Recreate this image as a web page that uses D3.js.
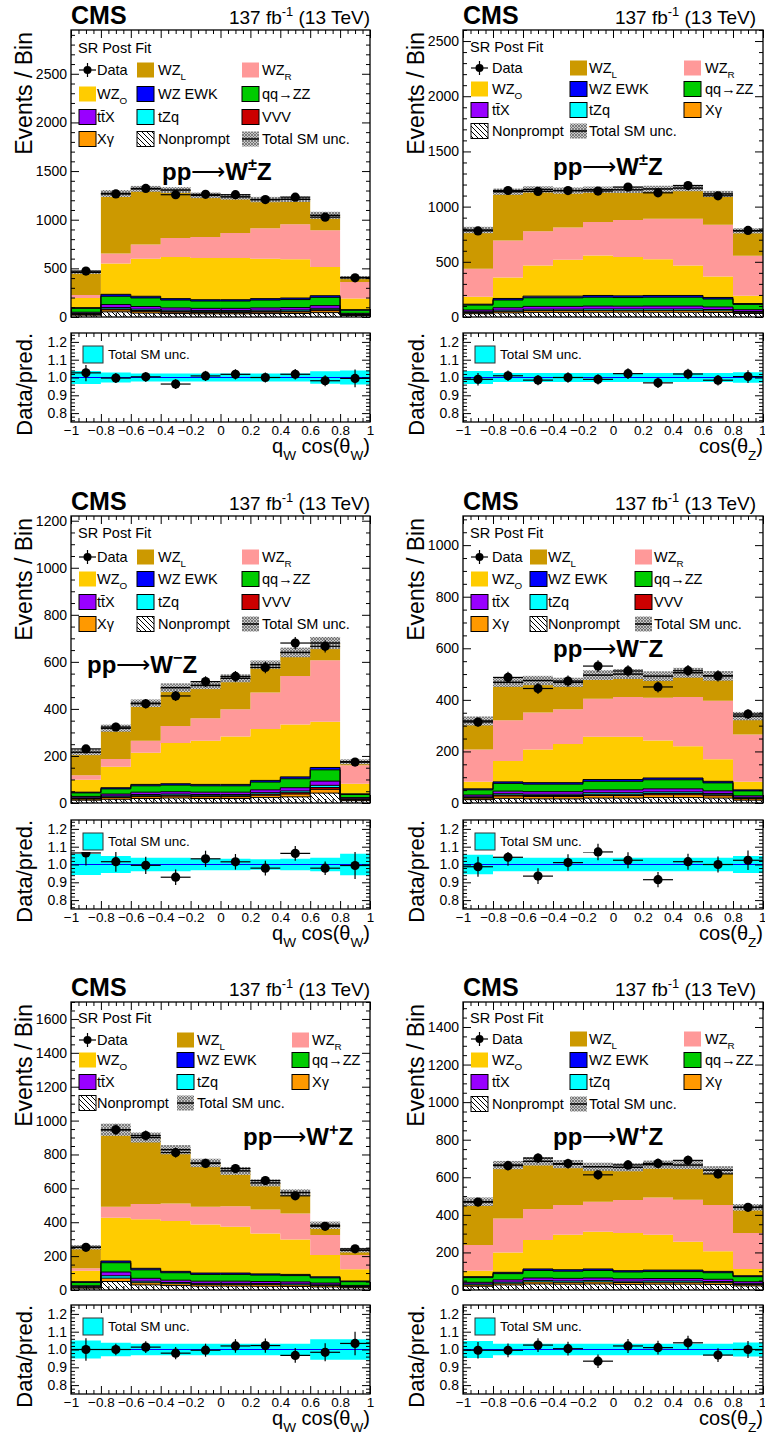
<!DOCTYPE html>
<html><head><meta charset="utf-8">
<script src="https://cdn.jsdelivr.net/npm/d3@7/dist/d3.min.js"></script>
<style>
body{margin:0;background:#fff}
text{font-family:"Liberation Sans",Arial,Helvetica,sans-serif;fill:#000}
</style>
</head><body>
<svg id="c" width="765" height="1438" xmlns="http://www.w3.org/2000/svg"></svg>
<script>
// ---------- shared axis definitions ----------
const binEdges = [-1, -0.8, -0.6, -0.4, -0.2, 0, 0.2, 0.4, 0.6, 0.8, 1];
const xTickVals = [-1, -0.8, -0.6, -0.4, -0.2, 0, 0.2, 0.4, 0.6, 0.8, 1];
const xTickText = ["\u22121", "\u22120.8", "\u22120.6", "\u22120.4", "\u22120.2", "0", "0.2", "0.4", "0.6", "0.8", "1"];
const ratioTickVals = [0.8, 0.9, 1.0, 1.1, 1.2];

// ---------- Panel 1: pp->W±Z, q_W cos(theta_W) ----------
const p1_data = [472, 1265, 1322, 1257, 1261, 1257, 1207, 1232, 1026, 403];
const p1_wzL = [234, 617, 573, 492, 427, 371, 295, 257, 153, 45];
const p1_wzR = [31, 103, 144, 196, 216, 257, 312, 360, 378, 171];
const p1_wzO = [99, 316, 387, 428, 429, 429, 411, 398, 295, 114];
const p1_ewk = [7, 20, 17, 15, 14, 14, 15, 16, 17, 5];
const p1_zz = [40, 85, 88, 80, 75, 75, 80, 82, 85, 32];
const p1_ttx = [12, 30, 27, 24, 23, 23, 24, 25, 28, 9];
const p1_tzq = [6, 15, 14, 12, 11, 11, 12, 12, 14, 4];
const p1_vvv = [4, 10, 9, 8, 8, 8, 8, 8, 10, 3];
const p1_xg = [8, 20, 18, 15, 14, 14, 15, 16, 20, 6];
const p1_np = [19, 53, 40, 35, 33, 33, 35, 36, 45, 16];
const p1_unc = [0.037, 0.028, 0.023, 0.023, 0.023, 0.023, 0.023, 0.023, 0.035, 0.04];

// ---------- Panel 2: pp->W±Z, cos(theta_Z) ----------
const p2_data = [780, 1146, 1138, 1145, 1141, 1177, 1125, 1191, 1098, 784];
const p2_wzL = [352, 443, 378, 334, 293, 274, 270, 278, 280, 225];
const p2_wzR = [253, 335, 311, 293, 302, 335, 366, 424, 469, 363];
const p2_wzO = [67, 189, 277, 329, 363, 351, 329, 271, 189, 70];
const p2_ewk = [8, 14, 15, 15, 16, 16, 16, 16, 14, 8];
const p2_zz = [45, 70, 78, 78, 80, 78, 80, 80, 72, 48];
const p2_ttx = [15, 22, 25, 25, 26, 25, 26, 26, 23, 16];
const p2_tzq = [8, 11, 13, 13, 13, 13, 13, 13, 12, 8];
const p2_xg = [10, 14, 16, 16, 17, 16, 17, 17, 15, 10];
const p2_np = [30, 37, 42, 42, 43, 44, 43, 43, 41, 32];
const p2_unc = [0.037, 0.025, 0.025, 0.025, 0.025, 0.025, 0.025, 0.025, 0.025, 0.03];

// ---------- Panel 3: pp->W-Z, q_W cos(theta_W) ----------
const p3_data = [230, 323, 422, 455, 516, 538, 576, 680, 666, 174];
const p3_wzL = [98, 131, 159, 163, 140, 131, 118, 100, 73, 14];
const p3_wzR = [19, 33, 51, 72, 95, 116, 155, 206, 262, 79];
const p3_wzO = [53, 89, 135, 173, 186, 204, 219, 223, 194, 43];
const p3_ewk = [3, 5, 6, 6, 6, 6, 7, 8, 10, 3];
const p3_zz = [15, 22, 27, 28, 27, 27, 33, 38, 48, 13];
const p3_ttx = [6, 8, 10, 10, 10, 10, 12, 14, 18, 5];
const p3_tzq = [3, 4, 5, 5, 5, 5, 6, 7, 9, 2];
const p3_vvv = [2, 3, 4, 4, 4, 4, 5, 6, 8, 2];
const p3_xg = [5, 7, 8, 8, 8, 8, 10, 12, 16, 4];
const p3_np = [12, 16, 19, 21, 19, 19, 23, 26, 42, 10];
const p3_unc = [0.059, 0.048, 0.038, 0.038, 0.032, 0.032, 0.03, 0.032, 0.038, 0.06];

// ---------- Panel 4: pp->W-Z, cos(theta_Z) ----------
const p4_data = [314, 487, 444, 473, 531, 512, 450, 513, 493, 345];
const p4_wzL = [111, 147, 124, 104, 92, 89, 84, 94, 96, 71];
const p4_wzR = [125, 158, 144, 135, 147, 154, 166, 191, 227, 184];
const p4_wzO = [27, 81, 128, 150, 166, 166, 145, 123, 86, 31];
const p4_ewk = [4, 6, 6, 6, 7, 7, 7, 7, 6, 4];
const p4_zz = [20, 30, 29, 29, 33, 33, 35, 35, 31, 19];
const p4_ttx = [7, 10, 10, 10, 11, 11, 12, 12, 10, 6];
const p4_tzq = [3, 5, 5, 5, 6, 6, 6, 6, 5, 3];
const p4_vvv = [2, 4, 4, 4, 5, 5, 5, 5, 4, 2];
const p4_xg = [6, 9, 9, 9, 10, 10, 11, 11, 9, 6];
const p4_np = [13, 18, 16, 16, 19, 19, 21, 21, 19, 11];
const p4_unc = [0.055, 0.038, 0.038, 0.038, 0.038, 0.038, 0.038, 0.038, 0.038, 0.048];

// ---------- Panel 5: pp->W+Z, q_W cos(theta_W) ----------
const p5_data = [252, 946, 912, 811, 747, 717, 646, 556, 376, 243];
const p5_wzL = [124, 455, 393, 317, 259, 208, 157, 123, 58, 29];
const p5_wzR = [14, 65, 89, 103, 104, 122, 141, 154, 118, 84];
const p5_wzO = [65, 255, 290, 298, 287, 273, 239, 206, 128, 69];
const p5_ewk = [4, 10, 9, 8, 8, 8, 7, 7, 6, 4];
const p5_zz = [20, 55, 50, 44, 40, 40, 38, 37, 31, 22];
const p5_ttx = [6, 22, 17, 14, 13, 13, 12, 12, 10, 6];
const p5_tzq = [3, 14, 9, 7, 6, 6, 6, 6, 5, 3];
const p5_xg = [5, 20, 13, 11, 10, 10, 10, 9, 8, 5];
const p5_np = [11, 50, 30, 26, 23, 23, 22, 21, 18, 13];
const p5_unc = [0.05, 0.038, 0.033, 0.033, 0.033, 0.033, 0.033, 0.033, 0.057, 0.058];

// ---------- Panel 6: pp->W+Z, cos(theta_Z) ----------
const p6_data = [468, 662, 702, 673, 613, 666, 674, 690, 618, 440];
const p6_wzL = [231, 284, 254, 218, 186, 174, 174, 185, 186, 137];
const p6_wzR = [136, 181, 165, 158, 160, 176, 199, 223, 246, 191];
const p6_wzO = [32, 106, 154, 186, 198, 200, 188, 151, 107, 36];
const p6_ewk = [5, 7, 8, 8, 8, 7, 8, 8, 7, 5];
const p6_zz = [25, 33, 40, 38, 40, 36, 37, 37, 35, 27];
const p6_ttx = [9, 12, 14, 14, 14, 13, 13, 13, 12, 10];
const p6_tzq = [5, 6, 7, 7, 7, 7, 7, 7, 6, 5];
const p6_xg = [7, 9, 11, 10, 11, 10, 10, 10, 10, 7];
const p6_np = [20, 27, 32, 31, 32, 30, 31, 31, 29, 22];
const p6_unc = [0.048, 0.033, 0.033, 0.033, 0.033, 0.033, 0.033, 0.033, 0.033, 0.04];

// ---------- styles ----------
const stackOrder = ["np", "xg", "vvv", "tzq", "ttx", "zz", "ewk", "wzO", "wzR", "wzL"];
const compColor = {wzL:"#cc9900", wzR:"#ff9999", wzO:"#ffcc00", ewk:"#0000ff", zz:"#00cc00",
  ttx:"#9900ff", tzq:"#00ffff", vvv:"#cc0000", xg:"#ff9900", np:"url(#npHatch)"};
const outlined = {ewk:1, zz:1, ttx:1, tzq:1, vvv:1, xg:1, np:1};
const compLabel = {data:["Data"], wzL:["WZ",{sub:"L"}], wzR:["WZ",{sub:"R"}], wzO:["WZ",{sub:"O"}],
  ewk:["WZ EWK"], zz:["qq\u2192ZZ"], ttx:["tt\u0304X"], tzq:["tZq"], vvv:["VVV"], xg:["X\u03b3"],
  np:["Nonprompt"], unc:["Total SM unc."]};

const entriesVVV = [[0,0,"data"],[0,1,"wzL"],[0,2,"wzR"],[1,0,"wzO"],[1,1,"ewk"],[1,2,"zz"],
  [2,0,"ttx"],[2,1,"tzq"],[2,2,"vvv"],[3,0,"xg"],[3,1,"np"],[3,2,"unc"]];
const entriesNoVVV = [[0,0,"data"],[0,1,"wzL"],[0,2,"wzR"],[1,0,"wzO"],[1,1,"ewk"],[1,2,"zz"],
  [2,0,"ttx"],[2,1,"tzq"],[2,2,"xg"],[3,0,"np"],[3,1,"unc"]];

const cols = [{fl:71, fr:370, lumiR:370}, {fl:463, fr:763, lumiR:756}];
const rowsG = [{mt:30, mb:317, rt:333}, {mt:516, mb:803, rt:820}, {mt:1002, mb:1290, rt:1305}];

const xTitleQ = ["q",{sub:"W"}," cos(\u03b8",{sub:"W"},")"];
const xTitleZ = ["cos(\u03b8",{sub:"Z"},")"];

const panels = [
  {id:1, col:0, row:0, ymax:2950, yMajor:500, yMinor:100, sup:"\u00b1", procX:162, procY:180, xTitle:xTitleQ,
   data:p1_data, unc:p1_unc, comp:{wzL:p1_wzL,wzR:p1_wzR,wzO:p1_wzO,ewk:p1_ewk,zz:p1_zz,ttx:p1_ttx,tzq:p1_tzq,vvv:p1_vvv,xg:p1_xg,np:p1_np},
   leg:{boxX:[8,66,171], textX:[26,87,191], sr:18, rows:[40,64,87,109], entries:entriesVVV}},
  {id:2, col:1, row:0, ymax:2600, yMajor:500, yMinor:100, sup:"\u00b1", procX:553, procY:175, xTitle:xTitleZ,
   data:p2_data, unc:p2_unc, comp:{wzL:p2_wzL,wzR:p2_wzR,wzO:p2_wzO,ewk:p2_ewk,zz:p2_zz,ttx:p2_ttx,tzq:p2_tzq,xg:p2_xg,np:p2_np},
   leg:{boxX:[8,107,221], textX:[29,126,242], sr:17, rows:[38,59,80,101], entries:entriesNoVVV}},
  {id:3, col:0, row:1, ymax:1220, yMajor:200, yMinor:50, sup:"\u2212", procX:87, procY:673, xTitle:xTitleQ,
   data:p3_data, unc:p3_unc, comp:{wzL:p3_wzL,wzR:p3_wzR,wzO:p3_wzO,ewk:p3_ewk,zz:p3_zz,ttx:p3_ttx,tzq:p3_tzq,vvv:p3_vvv,xg:p3_xg,np:p3_np},
   leg:{boxX:[8,66,171], textX:[26,87,191], sr:17, rows:[41,63,86,108], entries:entriesVVV}},
  {id:4, col:1, row:1, ymax:1113, yMajor:200, yMinor:50, sup:"\u2212", procX:553, procY:657, xTitle:xTitleZ,
   data:p4_data, unc:p4_unc, comp:{wzL:p4_wzL,wzR:p4_wzR,wzO:p4_wzO,ewk:p4_ewk,zz:p4_zz,ttx:p4_ttx,tzq:p4_tzq,vvv:p4_vvv,xg:p4_xg,np:p4_np},
   leg:{boxX:[8,67,172], textX:[29,85,191], sr:17, rows:[41,63,86,108], entries:entriesVVV}},
  {id:5, col:0, row:2, ymax:1700, yMajor:200, yMinor:50, sup:"+", procX:243, procY:1145, xTitle:xTitleQ,
   data:p5_data, unc:p5_unc, comp:{wzL:p5_wzL,wzR:p5_wzR,wzO:p5_wzO,ewk:p5_ewk,zz:p5_zz,ttx:p5_ttx,tzq:p5_tzq,xg:p5_xg,np:p5_np},
   leg:{boxX:[8,106,221], textX:[26,126,241], sr:16, rows:[38,58,80,101], entries:entriesNoVVV}},
  {id:6, col:1, row:2, ymax:1533, yMajor:200, yMinor:50, sup:"+", procX:553, procY:1145, xTitle:xTitleZ,
   data:p6_data, unc:p6_unc, comp:{wzL:p6_wzL,wzR:p6_wzR,wzO:p6_wzO,ewk:p6_ewk,zz:p6_zz,ttx:p6_ttx,tzq:p6_tzq,xg:p6_xg,np:p6_np},
   leg:{boxX:[8,107,221], textX:[29,126,242], sr:16, rows:[37,58,80,102], entries:entriesNoVVV}}
];

// ---------- drawing ----------
const svg = d3.select("#c");
const defs = svg.append("defs");
const npPat = defs.append("pattern").attr("id","npHatch").attr("patternUnits","userSpaceOnUse").attr("width",5).attr("height",5);
npPat.append("rect").attr("width",5).attr("height",5).attr("fill","#fff");
npPat.append("path").attr("d","M-1,-1L6,6M-1,4L1,6M4,-1L6,1").attr("stroke","#000").attr("stroke-width",1);
const unPat = defs.append("pattern").attr("id","uncHatch").attr("patternUnits","userSpaceOnUse").attr("width",3).attr("height",3);
unPat.append("rect").attr("width",3).attr("height",3).attr("fill","#c8c8c8");
unPat.append("path").attr("d","M0,0L3,3M3,0L0,3").attr("stroke","#5e5e5e").attr("stroke-width",0.7);

const FONT = '"Liberation Sans",Arial,Helvetica,sans-serif';

function rich(g, x, y, parts, size, anchor, weight) {
  const t = g.append("text").attr("x", x).attr("y", y).attr("font-size", size)
    .attr("text-anchor", anchor || "start").attr("font-weight", weight || "normal");
  let off = 0;
  parts.forEach(p => {
    let s, target, fs, w = null;
    if (typeof p === "string") { s = p; target = 0; fs = size; }
    else if (p.txt !== undefined) { s = p.txt; target = 0; fs = size; w = p.weight; }
    else if (p.sub !== undefined) { s = p.sub; target = size * 0.33; fs = size * 0.68; }
    else { s = p.sup; target = -size * 0.42; fs = size * 0.68; }
    const ts = t.append("tspan").attr("font-size", fs).text(s);
    if (w) ts.attr("font-weight", w);
    if (target !== off) { ts.attr("dy", target - off); off = target; }
  });
  return t;
}

function styleAxis(g, size) {
  g.attr("font-family", FONT).attr("font-size", size);
  g.select(".domain").remove();
  g.selectAll(".tick line").attr("stroke", "#000").attr("stroke-width", 1);
  g.selectAll(".tick text").attr("fill", "#000");
}

function stepPoints(vals) {
  return binEdges.map((e, i) => ({x: e, v: vals[Math.min(i, vals.length - 1)]}));
}

function drawPanel(P) {
  const C = cols[P.col], R = rowsG[P.row];
  const fl = C.fl, fr = C.fr, mt = R.mt, mb = R.mb, rt = R.rt, rb = R.rt + 89;
  const x = d3.scaleLinear().domain([-1, 1]).range([fl, fr]);
  const y = d3.scaleLinear().domain([0, P.ymax]).range([mb, mt]);
  const yr = d3.scaleLinear().domain([0.75, 1.25]).range([rb, rt]);
  const g = svg.append("g");

  defs.append("clipPath").attr("id", "cm" + P.id).append("rect")
    .attr("x", fl).attr("y", mt).attr("width", fr - fl).attr("height", mb - mt);
  defs.append("clipPath").attr("id", "cr" + P.id).append("rect")
    .attr("x", fl).attr("y", rt).attr("width", fr - fl).attr("height", rb - rt);

  // ---- main stack ----
  const keys = stackOrder.filter(k => P.comp[k]);
  const rowsData = d3.range(10).map(i => { const o = {}; keys.forEach(k => o[k] = P.comp[k][i]); return o; });
  const series = d3.stack().keys(keys)(rowsData);
  const total = rowsData.map((r, i) => series[series.length - 1][i][1]);
  const gm = g.append("g").attr("clip-path", `url(#cm${P.id})`);
  const area = d3.area().curve(d3.curveStepAfter).x(d => x(d.x)).y0(d => y(d.v[0])).y1(d => y(d.v[1]));
  series.forEach(layer => {
    gm.append("path").datum(stepPoints(layer)).attr("d", area).attr("fill", compColor[layer.key]);
  });
  const topLine = d3.line().curve(d3.curveStepAfter).x(d => x(d.x)).y(d => y(d.v[1]));
  series.forEach(layer => {
    if (!outlined[layer.key]) return;
    gm.append("path").datum(stepPoints(layer)).attr("d", topLine).attr("fill", "none")
      .attr("stroke", "#000").attr("stroke-width", 1);
  });
  gm.selectAll(null).data(total).join("rect")
    .attr("x", (d, i) => x(binEdges[i])).attr("width", (d, i) => x(binEdges[i + 1]) - x(binEdges[i]))
    .attr("y", (d, i) => y(d * (1 + P.unc[i]))).attr("height", (d, i) => y(d * (1 - P.unc[i])) - y(d * (1 + P.unc[i])))
    .attr("fill", "url(#uncHatch)");
  gm.selectAll(null).data(total).join("line")
    .attr("x1", (d, i) => x(binEdges[i])).attr("x2", (d, i) => x(binEdges[i + 1]))
    .attr("y1", d => y(d)).attr("y2", d => y(d)).attr("stroke", "#000").attr("stroke-width", 1.5);
  const cx = i => (x(binEdges[i]) + x(binEdges[i + 1])) / 2;
  P.data.forEach((d, i) => {
    const e = Math.sqrt(d);
    gm.append("line").attr("x1", x(binEdges[i])).attr("x2", x(binEdges[i + 1])).attr("y1", y(d)).attr("y2", y(d))
      .attr("stroke", "#000").attr("stroke-width", 1.2);
    gm.append("line").attr("x1", cx(i)).attr("x2", cx(i)).attr("y1", y(d - e)).attr("y2", y(d + e))
      .attr("stroke", "#000").attr("stroke-width", 1.2);
    gm.append("circle").attr("cx", cx(i)).attr("cy", y(d)).attr("r", 4.6).attr("fill", "#000");
  });

  // ---- main axes ----
  const majY = d3.range(0, P.ymax + 1e-6, P.yMajor);
  const minY = d3.range(0, P.ymax + 1e-6, P.yMinor).filter(v => Math.abs(v / P.yMajor - Math.round(v / P.yMajor)) > 1e-6);
  const xMinor = d3.range(-1, 1.0001, 0.05).filter(v => Math.abs(v / 0.2 - Math.round(v / 0.2)) > 1e-6);
  styleAxis(g.append("g").attr("transform", `translate(${fl},0)`)
    .call(d3.axisLeft(y).tickValues(majY).tickSize(-8).tickPadding(4).tickFormat(d3.format("d"))), 14);
  styleAxis(g.append("g").attr("transform", `translate(${fl},0)`).call(d3.axisLeft(y).tickValues(minY).tickSize(-4).tickFormat("")), 14);
  styleAxis(g.append("g").attr("transform", `translate(${fr},0)`).call(d3.axisRight(y).tickValues(majY).tickSize(-8).tickFormat("")), 14);
  styleAxis(g.append("g").attr("transform", `translate(${fr},0)`).call(d3.axisRight(y).tickValues(minY).tickSize(-4).tickFormat("")), 14);
  [[mb, d3.axisBottom], [mt, d3.axisTop]].forEach(([yy, ax]) => {
    styleAxis(g.append("g").attr("transform", `translate(0,${yy})`).call(ax(x).tickValues(xTickVals).tickSize(-8).tickFormat("")), 13);
    styleAxis(g.append("g").attr("transform", `translate(0,${yy})`).call(ax(x).tickValues(xMinor).tickSize(-4).tickFormat("")), 13);
  });
  g.append("rect").attr("x", fl).attr("y", mt).attr("width", fr - fl).attr("height", mb - mt)
    .attr("fill", "none").attr("stroke", "#000").attr("stroke-width", 1.3);

  // ---- legend ----
  const L = P.leg;
  rich(g, fl + 7, mt + L.sr + 5, ["SR Post Fit"], 14.5);
  L.entries.forEach(([r, c, k]) => {
    const cy = mt + L.rows[r], bx = fl + L.boxX[c];
    if (k === "data") {
      g.append("line").attr("x1", bx).attr("x2", bx + 17).attr("y1", cy).attr("y2", cy).attr("stroke", "#000").attr("stroke-width", 1.2);
      g.append("line").attr("x1", bx + 8.5).attr("x2", bx + 8.5).attr("y1", cy - 7).attr("y2", cy + 7).attr("stroke", "#000").attr("stroke-width", 1.2);
      g.append("circle").attr("cx", bx + 8.5).attr("cy", cy).attr("r", 4).attr("fill", "#000");
    } else if (k === "unc") {
      g.append("rect").attr("x", bx).attr("y", cy - 7.5).attr("width", 17).attr("height", 15).attr("fill", "url(#uncHatch)");
      g.append("line").attr("x1", bx).attr("x2", bx + 17).attr("y1", cy).attr("y2", cy).attr("stroke", "#000").attr("stroke-width", 1.5);
    } else {
      g.append("rect").attr("x", bx).attr("y", cy - 7.5).attr("width", 17).attr("height", 15)
        .attr("fill", compColor[k]).attr("stroke", outlined[k] ? "#000" : "none").attr("stroke-width", 1);
    }
    rich(g, fl + L.textX[c], cy + 5, compLabel[k], 14.5);
  });

  // ---- headers ----
  rich(g, fl, mt - 6, ["CMS"], 25, "start", "bold");
  rich(g, C.lumiR, mt - 6, ["137 fb", {sup:"-1"}, " (13 TeV)"], 19, "end");
  rich(g, P.procX, P.procY, ["pp", {txt:"\u27F6", weight:"normal"}, "W", {sup:P.sup}, "Z"], 24, "start", "bold");
  g.append("text").attr("transform", `translate(${fl - 39},${mt + 2}) rotate(-90)`)
    .attr("text-anchor", "end").attr("font-size", 23).text("Events / Bin");

  // ---- ratio panel ----
  const gr = g.append("g").attr("clip-path", `url(#cr${P.id})`);
  const band = d3.area().curve(d3.curveStepAfter).x(d => x(d.x)).y0(d => yr(1 - d.v)).y1(d => yr(1 + d.v));
  gr.append("path").datum(stepPoints(P.unc)).attr("d", band).attr("fill", "#00ffff");
  gr.append("line").attr("x1", fl).attr("x2", fr).attr("y1", yr(1)).attr("y2", yr(1)).attr("stroke", "#0000ff").attr("stroke-width", 1.2);
  P.data.forEach((d, i) => {
    const r = d / total[i], e = Math.sqrt(d) / total[i];
    gr.append("line").attr("x1", x(binEdges[i])).attr("x2", x(binEdges[i + 1])).attr("y1", yr(r)).attr("y2", yr(r))
      .attr("stroke", "#000").attr("stroke-width", 1.2);
    gr.append("line").attr("x1", cx(i)).attr("x2", cx(i)).attr("y1", yr(r - e)).attr("y2", yr(r + e))
      .attr("stroke", "#000").attr("stroke-width", 1.2);
    gr.append("circle").attr("cx", cx(i)).attr("cy", yr(r)).attr("r", 4.6).attr("fill", "#000");
  });
  g.append("rect").attr("x", fl + 1).attr("y", rt + 1).attr("width", 130).attr("height", 31).attr("fill", "#fff");
  g.append("rect").attr("x", fl + 12).attr("y", rt + 13).attr("width", 20).attr("height", 17)
    .attr("fill", "#00ffff").attr("stroke", "#333").attr("stroke-width", 1);
  rich(g, fl + 37, rt + 26, ["Total SM unc."], 13.5);

  const rMinor = d3.range(0.76, 1.2401, 0.02).filter(v => Math.abs(v * 10 - Math.round(v * 10)) > 1e-6);
  styleAxis(g.append("g").attr("transform", `translate(${fl},0)`)
    .call(d3.axisLeft(yr).tickValues(ratioTickVals).tickSize(-8).tickPadding(4).tickFormat(d3.format(".1f"))), 14);
  styleAxis(g.append("g").attr("transform", `translate(${fl},0)`).call(d3.axisLeft(yr).tickValues(rMinor).tickSize(-4).tickFormat("")), 14);
  styleAxis(g.append("g").attr("transform", `translate(${fr},0)`).call(d3.axisRight(yr).tickValues(ratioTickVals).tickSize(-8).tickFormat("")), 14);
  styleAxis(g.append("g").attr("transform", `translate(${fr},0)`).call(d3.axisRight(yr).tickValues(rMinor).tickSize(-4).tickFormat("")), 14);
  const xb = g.append("g").attr("transform", `translate(0,${rb})`)
    .call(d3.axisBottom(x).tickValues(xTickVals).tickSize(-8).tickPadding(3).tickFormat((d, i) => xTickText[i]));
  styleAxis(xb, 13.5);
  if (fr > 760) {
    xb.selectAll(".tick text").filter(d => d === 1).attr("text-anchor", "end").attr("dx", 3);
  }
  styleAxis(g.append("g").attr("transform", `translate(0,${rb})`).call(d3.axisBottom(x).tickValues(xMinor).tickSize(-4).tickFormat("")), 13);
  styleAxis(g.append("g").attr("transform", `translate(0,${rt})`).call(d3.axisTop(x).tickValues(xTickVals).tickSize(-8).tickFormat("")), 13);
  styleAxis(g.append("g").attr("transform", `translate(0,${rt})`).call(d3.axisTop(x).tickValues(xMinor).tickSize(-4).tickFormat("")), 13);
  g.append("rect").attr("x", fl).attr("y", rt).attr("width", fr - fl).attr("height", rb - rt)
    .attr("fill", "none").attr("stroke", "#000").attr("stroke-width", 1.3);
  g.append("text").attr("transform", `translate(${fl - 39},${rt}) rotate(-90)`)
    .attr("text-anchor", "end").attr("font-size", 22).text("Data/pred.");
  rich(g, fr, rb + 31, P.xTitle, 20, "end");
}

panels.forEach(drawPanel);
</script>
</body></html>
